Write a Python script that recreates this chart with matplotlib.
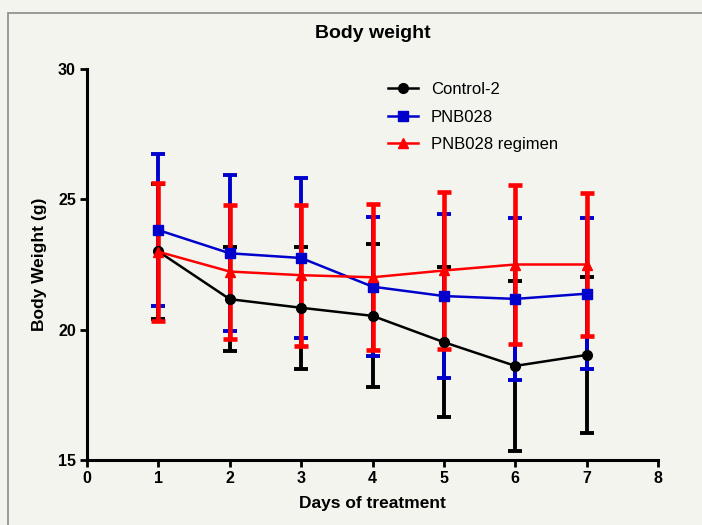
import numpy as np
import matplotlib
matplotlib.use('Agg')
import matplotlib.pyplot as plt
from matplotlib.patches import Rectangle
from matplotlib.lines import Line2D

days = [1, 2, 3, 4, 5, 6, 7]

control_mean = [23.0, 21.17, 20.84, 20.53, 19.52, 18.61, 19.03]
control_err = [2.6, 2.0, 2.35, 2.74, 2.87, 3.27, 3.0]

pnb_mean = [23.82, 22.93, 22.75, 21.65, 21.29, 21.18, 21.38]
pnb_err = [2.9, 3.0, 3.08, 2.67, 3.14, 3.1, 2.9]

reg_mean = [22.99, 22.23, 22.09, 22.01, 22.27, 22.5, 22.5]
reg_err = [2.65, 2.57, 2.7, 2.8, 3.02, 3.06, 2.75]

labels = ['Control-2', 'PNB028', 'PNB028 regimen']
colors = ['#000000', '#0000cc', '#ff0000']
markers = ['o', 's', '^']
ebar_width = [2.8, 2.8, 3.3]

bg = '#f4f4ef'
plt.rcParams['font.family'] = ['Liberation Sans', 'DejaVu Sans']

fig = plt.figure(figsize=(7.02, 5.25), dpi=100, facecolor=bg)
fig.patches.append(Rectangle((8 / 702, -0.05), 1.0, 1 - 13 / 525 + 0.05,
                             transform=fig.transFigure, fill=False,
                             edgecolor='#8a8a8a', linewidth=1.2))
ax = fig.add_axes([87 / 702, 65 / 525, 571 / 702, 391 / 525])
ax.set_facecolor(bg)

series = [(control_mean, control_err), (pnb_mean, pnb_err), (reg_mean, reg_err)]
handles = []
for (m, e), lab, c, mk, ew in zip(series, labels, colors, markers, ebar_width):
    ax.errorbar(days, m, yerr=e, color=c, marker=mk, markersize=7,
                linewidth=1.8, elinewidth=ew, capsize=5, capthick=ew)
    handles.append(Line2D([], [], color=c, marker=mk, markersize=7,
                          linewidth=1.8, label=lab))

ax.set_xlim(0, 8)
ax.set_ylim(15, 30)
ax.set_xticks(range(0, 9))
ax.set_yticks([15, 20, 25, 30])
for s in ['top', 'right']:
    ax.spines[s].set_visible(False)
for s in ['left', 'bottom']:
    ax.spines[s].set_linewidth(2.2)
ax.tick_params(width=2, length=5, labelsize=11.5, pad=3)
for t in ax.get_xticklabels() + ax.get_yticklabels():
    t.set_fontweight('bold')

ax.set_xlabel('Days of treatment', fontsize=12.5, fontweight='bold', labelpad=7)
ax.set_ylabel('Body Weight (g)', fontsize=12.5, fontweight='bold', labelpad=8)
ax.set_title('Body weight', fontsize=14, fontweight='bold', pad=22)

ax.legend(handles=handles, loc='upper left', bbox_to_anchor=(0.5, 1.005),
          frameon=False, fontsize=12, handlelength=1.8, labelspacing=0.75)

fig.savefig('out.png', dpi=100, facecolor=bg)
